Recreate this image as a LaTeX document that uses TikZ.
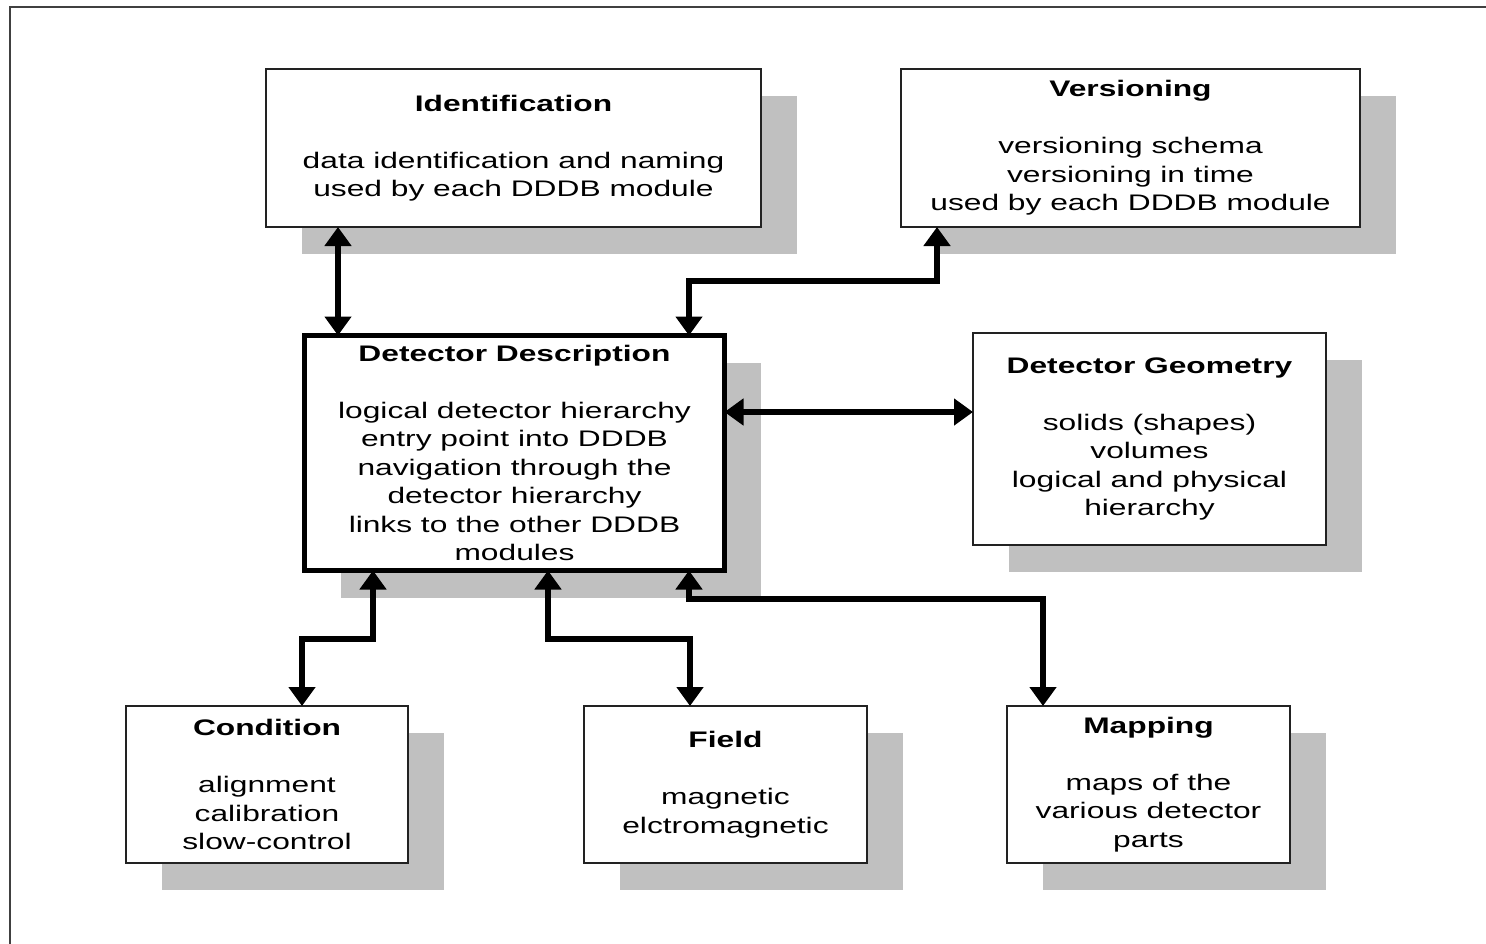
\documentclass[tikz,border=0pt]{standalone}
\usepackage{fontspec}
\setmainfont{Liberation Sans}[FakeStretch=1.41]
\usetikzlibrary{arrows.meta,shadows}
\definecolor{shadowgray}{HTML}{C0C0C0}
\definecolor{linegray}{HTML}{222222}
\tikzset{
  module/.style={draw=linegray, line width=2pt, fill=white, align=center,
    inner sep=0pt, outer sep=0pt,
    font=\fontsize{22.5}{28.5}\selectfont,
    drop shadow={shadow xshift=36pt, shadow yshift=-27pt, fill=shadowgray, opacity=1}},
  mainmodule/.style={module, line width=5pt, draw=black},
  conn/.style={line width=5.5pt, draw=black,
    {Triangle[width=26pt,length=19pt]}-{Triangle[width=26pt,length=19pt]}},
  outerframe/.style={draw=black!75, line width=2pt}
}
\begin{document}
\begin{tikzpicture}[x=1pt,y=-1pt]
\useasboundingbox (0,0) rectangle (1486,943);
\draw[outerframe] (10,950) -- (10,7) -- (1490,7);

\node[module, minimum width=495pt, minimum height=158pt] (ident) at (513.5,148)
  {\textbf{Identification}\\[28.5pt]data identification and naming\\used by each DDDB module};
\node[module, minimum width=459pt, minimum height=158pt] (vers) at (1130.5,148)
  {\textbf{Versioning}\\[28.5pt]versioning schema\\versioning in time\\used by each DDDB module};
\node[mainmodule, minimum width=420pt, minimum height=235pt] (dd) at (514.5,453)
  {\textbf{Detector Description}\\[28.5pt]logical detector hierarchy\\entry point into DDDB\\navigation through the\\detector hierarchy\\links to the other DDDB\\modules};
\node[module, minimum width=353pt, minimum height=212pt] (geom) at (1149.5,439)
  {\textbf{Detector Geometry}\\[28.5pt]solids (shapes)\\volumes\\logical and physical\\hierarchy};
\node[module, minimum width=282pt, minimum height=157pt] (cond) at (267,784.5)
  {\textbf{Condition}\\[28.5pt]alignment\\calibration\\slow-control};
\node[module, minimum width=283pt, minimum height=157pt] (field) at (725.5,784.5)
  {\textbf{Field}\\[28.5pt]magnetic\\elctromagnetic};
\node[module, minimum width=283pt, minimum height=157pt] (map) at (1148.5,784.5)
  {\textbf{Mapping}\\[28.5pt]maps of the\\various detector\\parts};

\coordinate (vbend) at (800,281);
\coordinate (cbend) at (340,639);
\coordinate (fbend) at (620,639);
\coordinate (mbend) at (860,599);

\draw[conn] ([xshift=72pt]ident.south west) -- ([xshift=33.5pt]dd.north west);
\draw[conn] ([xshift=384.5pt]dd.north west) |- (vbend) -| ([xshift=36pt]vers.south west);
\draw[conn] ([yshift=41pt]dd.east) -- ([yshift=27pt]geom.west);
\draw[conn] ([xshift=68.5pt]dd.south west) |- (cbend) -| ([xshift=176pt]cond.north west);
\draw[conn] ([xshift=243.5pt]dd.south west) |- (fbend) -| ([xshift=106pt]field.north west);
\draw[conn] ([xshift=384.5pt]dd.south west) |- (mbend) -| ([xshift=36pt]map.north west);
\end{tikzpicture}
\end{document}
